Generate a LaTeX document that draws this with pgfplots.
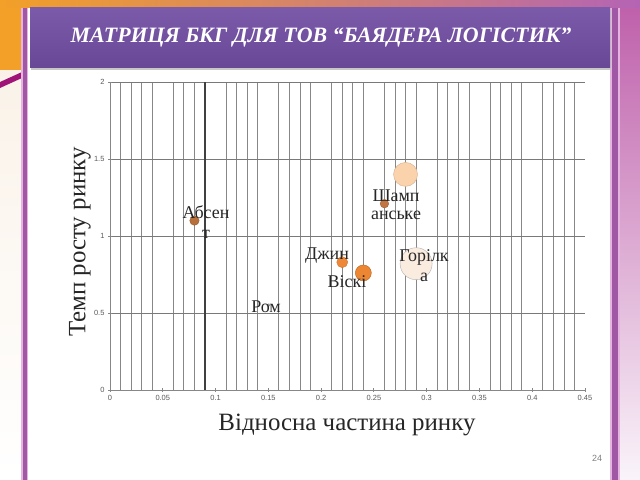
\documentclass[border=0pt]{standalone}
\usepackage{pgfplots}
\pgfplotsset{compat=1.18}
\usepackage{fontspec}
\setmainfont{Liberation Serif}
\setsansfont{Liberation Sans}
\definecolor{banner}{RGB}{104,72,150}
\definecolor{bannertop}{RGB}{124,90,170}
\definecolor{stripe}{RGB}{160,88,165}
\definecolor{stripeedge}{RGB}{230,180,225}
\definecolor{gridc}{RGB}{135,135,135}
\definecolor{absent}{RGB}{184,112,58}
\definecolor{shamp}{RGB}{196,118,66}
\definecolor{dzhyn}{RGB}{238,136,56}
\definecolor{viski}{RGB}{236,134,50}
\definecolor{peach}{RGB}{250,210,172}
\definecolor{horilka}{RGB}{251,236,224}
\definecolor{orangec}{RGB}{242,160,40}
\definecolor{palec}{RGB}{250,242,232}
\definecolor{magentac}{RGB}{160,20,120}
\definecolor{righttop}{RGB}{190,95,170}
\definecolor{rightbot}{RGB}{250,244,250}
\definecolor{topmid}{RGB}{248,225,235}
\definecolor{topright}{RGB}{180,100,180}
\begin{document}
\begin{tikzpicture}
\begin{scope}[x=1bp,y=1bp]
\useasboundingbox (0,0) rectangle (640,480);
\fill[white] (0,0) rectangle (640,480);
% left decoration
\shade[top color=palec, bottom color=white] (0,0) rectangle (22,420);
\fill[orangec] (0,410) rectangle (22,480);
\fill[magentac] (0,392) -- (22,402) -- (22,408) -- (0,398) -- cycle;
\fill[stripeedge] (21,0) rectangle (28,480);
\fill[stripe] (22.5,0) rectangle (26.5,480);
% right decoration
\shade[top color=righttop, bottom color=rightbot] (618,0) rectangle (640,480);
\fill[stripeedge] (610,0) rectangle (620,480);
\fill[stripe] (612,0) rectangle (618,480);
% top strip
\shade[left color=orangec, middle color=topmid, right color=topright] (0,472) rectangle (640,480);
% banner
\fill[black!22] (31,410) rectangle (611,470);
\shade[top color=bannertop, bottom color=banner] (30,412) rectangle (610,472);
\node[white, font=\fontsize{22}{24}\selectfont\bfseries\itshape] at (321,442) {МАТРИЦЯ БКГ ДЛЯ ТОВ “БАЯДЕРА ЛОГІСТИК”};
\node[rotate=90, font=\fontsize{25}{27}\selectfont, text=black!85] at (80,238) {Темп росту ринку};
\node[font=\fontsize{25}{27}\selectfont, text=black!85] at (347,55) {Відносна частина ринку};
\node[text=gray, font=\fontsize{9}{10}\selectfont\sffamily] at (597,22) {24};
\end{scope}
\begin{axis}[
  at={(110bp,90bp)}, anchor=south west,
  scale only axis, width=475bp, height=308bp,
  xmin=0, xmax=0.45, ymin=0, ymax=2,
  axis lines*=left,
  axis line style={gridc, line width=0.8bp},
  xtick={0,0.05,0.1,0.15,0.2,0.25,0.3,0.35,0.4,0.45},
  ytick={0,0.5,1,1.5,2},
  minor xtick={0.01,0.02,0.03,0.04,0.06,0.07,0.08,0.09,0.11,0.12,0.13,0.14,0.16,0.17,0.18,0.19,0.21,0.22,0.23,0.24,0.26,0.27,0.28,0.29,0.31,0.32,0.33,0.34,0.36,0.37,0.38,0.39,0.41,0.42,0.43,0.44},
  xminorgrids=true, ymajorgrids=true, xmajorgrids=false,
  minor grid style={gridc, line width=0.8bp},
  major grid style={gridc!90!black, line width=0.8bp},
  tick align=center, major tick length=4bp, minor tick length=0pt,
  tick style={gridc, line width=0.8bp},
  ticklabel style={font=\fontsize{7.5}{8}\selectfont\sffamily, text=black!65},
  /pgf/number format/assume math mode=true,
  xticklabel style={/pgf/number format/fixed, /pgf/number format/precision=2},
  yticklabel style={/pgf/number format/fixed, /pgf/number format/precision=1},
  clip=false,
]
\draw[black!75, line width=1.3bp] (axis cs:0.09,0) -- (axis cs:0.09,2);
% bubbles
\addplot[only marks, mark=*, mark size=1.5bp, mark options={fill=gray!60, draw=gray}] coordinates {(0.15,0.55)};
\addplot[only marks, mark=*, mark size=4.7bp, mark options={fill=absent, draw=absent!80!black}] coordinates {(0.08,1.1)};
\addplot[only marks, mark=*, mark size=4.3bp, mark options={fill=shamp, draw=shamp!80!black}] coordinates {(0.26,1.21)};
\addplot[only marks, mark=*, mark size=5.5bp, mark options={fill=dzhyn, draw=dzhyn!85!black}] coordinates {(0.22,0.83)};
\addplot[only marks, mark=*, mark size=8bp, mark options={fill=viski, draw=viski!75!black}] coordinates {(0.24,0.76)};
\addplot[only marks, mark=*, mark size=12bp, mark options={fill=peach, draw=peach!85!black}] coordinates {(0.28,1.4)};
\addplot[only marks, mark=*, mark size=16bp, mark options={fill=horilka, draw=black!30}] coordinates {(0.29,0.82)};
\end{axis}
\begin{scope}[x=1bp,y=1bp]
\node[font=\fontsize{18}{20}\selectfont, align=center, text=black!85] at (206,258) {Абсен\\т};
\node[font=\fontsize{18}{18}\selectfont, align=center, text=black!85] at (396,275) {Шамп\\анське};
\node[font=\fontsize{18}{20}\selectfont, align=center, text=black!85] at (424,214.5) {Горілк\\а};
\node[font=\fontsize{18}{18}\selectfont, text=black!85] at (327,224) {Джин};
\node[font=\fontsize{18}{18}\selectfont, text=black!85] at (347,198) {Віскі};
\node[font=\fontsize{18}{18}\selectfont, text=black!85] at (266,173) {Ром};
\end{scope}
\end{tikzpicture}
\end{document}
